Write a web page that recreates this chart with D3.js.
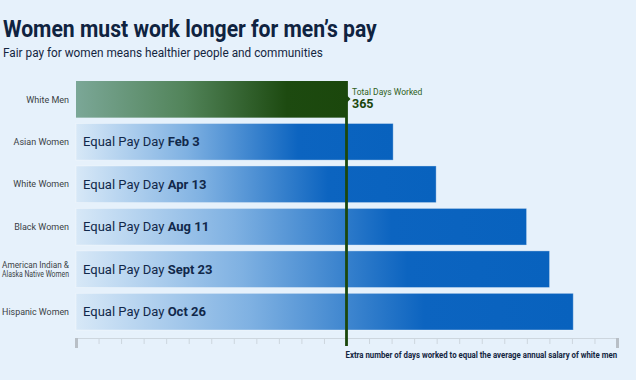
<!DOCTYPE html>
<html>
<head>
<meta charset="utf-8">
<script src="https://cdn.jsdelivr.net/npm/d3@7"></script>
<style>
  html, body { margin: 0; padding: 0; background: #e6f1fb; }
  svg { display: block; font-family: Roboto, "Noto Sans", sans-serif; }
</style>
</head>
<body>
<div id="chart"></div>
<script>
// chart values
const categories = ["White Men", "Asian Women", "White Women", "Black Women",
  "American Indian & Alaska Native Women", "Hispanic Women"];
const labelLines = [["White Men"], ["Asian Women"], ["White Women"], ["Black Women"],
  ["American Indian &", "Alaska Native Women"], ["Hispanic Women"]];
const daysWorked = [365, 428, 486, 608, 639, 671];
const payDays = [null, "Feb 3", "Apr 13", "Aug 11", "Sept 23", "Oct 26"];
const baseDays = 365;
const axisMaxDays = 730;
const monthTicks = d3.range(25).map(i => i * axisMaxDays / 24);

const w = 636, h = 380;
const data = categories.map((c, i) => ({ name: c, lines: labelLines[i], days: daysWorked[i], payDay: payDays[i] }));

const svg = d3.select('#chart').append('svg')
  .attr('width', w)
  .attr('height', h);

const defs = svg.append('defs');

const greenGrad = defs.append('linearGradient').attr('id', 'greenGrad');
[[0, '#7ba797'], [0.4, '#52845a'], [0.78, '#1d4a10'], [1, '#1b470c']].forEach(s =>
  greenGrad.append('stop').attr('offset', s[0]).attr('stop-color', s[1]));

const blueGrad = defs.append('linearGradient').attr('id', 'blueGrad');
[[0, '#d7e8f7'], [0.35, '#7fb1e2'], [0.7, '#0c64c0'], [1, '#0862be']].forEach(s =>
  blueGrad.append('stop').attr('offset', s[0]).attr('stop-color', s[1]));

svg.append('rect')
  .attr('width', w).attr('height', h)
  .attr('fill', '#e6f1fb');

// squeeze a text horizontally so it takes `width` px, starting at (x0, y0)
function squeeze(sel, x0, y0, width) {
  const natural = sel.node().getComputedTextLength();
  const k = Math.min(1, width / natural);
  sel.attr('x', 0).attr('y', 0)
    .attr('transform', `translate(${x0},${y0}) scale(${k},1)`);
  return sel;
}

// title
squeeze(svg.append('text')
  .style('font-size', '24.5px').style('font-weight', 700)
  .style('fill', '#0f2340')
  .text('Women must work longer for men\u2019s pay'), 3, 37, 374);

squeeze(svg.append('text')
  .style('font-size', '13.5px')
  .style('fill', '#14263f')
  .text('Fair pay for women means healthier people and communities'), 3, 57, 320);

const x = d3.scaleLinear()
  .domain([0, axisMaxDays])
  .range([76, 617]);

const y = d3.scaleBand()
  .domain(categories)
  .range([81, 330])
  .paddingInner(0.137)
  .paddingOuter(0);

// bars
svg.append('g').attr('class', 'bars')
  .selectAll('rect')
  .data(data)
  .enter()
  .append('rect')
  .attr('x', x(0))
  .attr('y', d => y(d.name))
  .attr('width', d => x(d.days) - x(0))
  .attr('height', y.bandwidth())
  .attr('fill', (d, i) => i === 0 ? 'url(#greenGrad)' : 'url(#blueGrad)')
  .attr('stroke', (d, i) => i === 0 ? 'none' : 'rgba(255,255,255,0.35)')
  .attr('stroke-width', 1);

// category labels, one text per line, right aligned at x = 69
const labelG = svg.append('g').attr('class', 'labels');
data.forEach(d => {
  const yc = y(d.name) + y.bandwidth() / 2 + 3.2 - (d.lines.length - 1) * 4.6;
  d.lines.forEach((line, j) => {
    const t = labelG.append('text')
      .attr('text-anchor', 'end')
      .style('font-size', '9px')
      .style('fill', '#3a3f45')
      .text(line);
    squeeze(t, 69, yc + j * 9.4, 67);
  });
});

// equal pay day labels inside bars
const payLabels = svg.append('g').attr('class', 'paydays')
  .selectAll('text')
  .data(data.filter(d => d.payDay))
  .enter()
  .append('text')
  .attr('x', 83)
  .attr('y', d => y(d.name) + y.bandwidth() / 2 + 4.6)
  .style('font-size', '13px')
  .style('fill', '#11284a');

payLabels.append('tspan').text('Equal Pay Day ');
payLabels.append('tspan').style('font-weight', 700).text(d => d.payDay);

// axis
const axis = svg.append('g')
  .attr('class', 'x axis')
  .attr('transform', 'translate(0,338)')
  .call(d3.axisBottom(x)
    .tickValues(monthTicks)
    .tickSize(6)
    .tickSizeOuter(0)
    .tickFormat(''));

axis.select('.domain').attr('stroke', '#cdd6de').attr('stroke-width', 1);
axis.selectAll('.tick line').attr('stroke', '#cdd6de');
axis.selectAll('.tick line')
  .filter(d => d === 0 || d === axisMaxDays)
  .attr('stroke', '#b8bfc6')
  .attr('stroke-width', 3)
  .attr('y2', 10);

squeeze(svg.append('text')
  .style('font-size', '9px').style('font-weight', 700)
  .style('fill', '#14263f')
  .text('Extra number of days worked to equal the average annual salary of white men'),
  x(baseDays) - 1, 358, 272);

// 365 marker
const mx = x(baseDays);
svg.append('line')
  .attr('x1', mx).attr('x2', mx)
  .attr('y1', y(categories[0])).attr('y2', 346)
  .attr('stroke', '#1b470c')
  .attr('stroke-width', 2.8);

svg.append('path')
  .attr('d', `M${mx},95 L${mx + 4},99 L${mx},103 Z`)
  .attr('fill', '#1b470c');

svg.append('text')
  .attr('x', mx + 5.5).attr('y', 95)
  .style('font-size', '8.5px')
  .style('fill', '#2f5f22')
  .text('Total Days Worked');

svg.append('text')
  .attr('x', mx + 5.5).attr('y', 107.5)
  .style('font-size', '12.5px').style('font-weight', 700)
  .style('fill', '#1b470c')
  .text(baseDays);
</script>
</body>
</html>
